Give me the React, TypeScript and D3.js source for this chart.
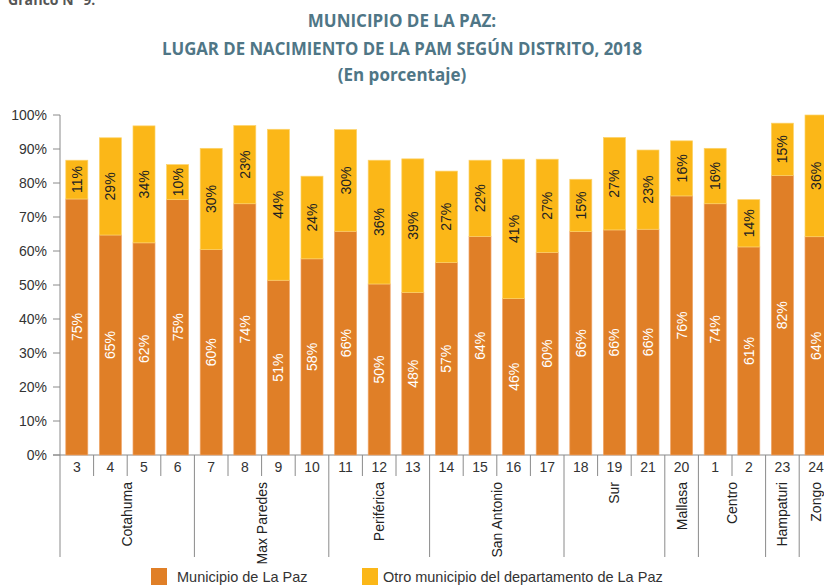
import React from "react";
import * as d3 from "d3";

const categories = ["3","4","5","6","7","8","9","10","11","12","13","14","15","16","17","18","19","21","20","1","2","23","24"];
const municipio = [75.3,64.7,62.4,75.1,60.4,73.9,51.4,57.7,65.8,50.3,47.8,56.6,64.3,46.0,59.6,65.7,66.2,66.4,76.2,73.9,61.2,82.2,64.2];
const otro = [11.4,28.6,34.4,10.3,29.8,23.0,44.4,24.3,29.9,36.4,39.3,26.9,22.4,41.0,27.4,15.4,27.2,23.3,16.2,16.3,13.9,15.4,35.8];
const groupNames = ["Cotahuma","Max Paredes","Periférica","San Antonio","Sur","Mallasa","Centro","Hampaturi","Zongo"];
const groupSizes = [4,4,3,4,3,1,2,1,1];
const yTicks = [0,10,20,30,40,50,60,70,80,90,100];
const seriesNames = ["Municipio de La Paz","Otro municipio del departamento de La Paz"];

const ORANGE = "#E07F27";
const YELLOW = "#FBB718";
const AXIS = "#8a8a8a";
const FONT = "'Liberation Sans', Arial, sans-serif";

export default function App() {
  const W = 824, H = 586;
  const x0 = 60, step = 33.6;
  const x = d3.scaleBand<string>()
    .domain(categories)
    .range([x0, x0 + step * categories.length])
    .paddingInner(0.345)
    .paddingOuter(0.1725);
  const y = d3.scaleLinear().domain([0, 100]).range([455, 115]);
  const fmt = (v: number) => `${Math.round(v)}%`;

  const boundaries: number[] = [0];
  groupSizes.reduce((acc, s) => { boundaries.push(acc + s); return acc + s; }, 0);

  const bw = x.bandwidth();
  const xStart = (i: number) => x0 + i * x.step();

  return (
    <svg width={W} height={H} style={{ position: "absolute", left: 0, top: 0 }} fontFamily={FONT}>
      <rect width={W} height={H} fill="#fff" />
      <text x={8} y={5} fontFamily="'Open Sans', sans-serif" fontWeight="bold" fontSize={14} fill="#555">Gráfico N° 9:</text>
      <g fontFamily="'Open Sans', sans-serif" fontWeight="bold" fill="#4F7686" textAnchor="middle">
        <text x={402} y={27} fontSize={17}>MUNICIPIO DE LA PAZ:</text>
        <text x={402} y={55} fontSize={17} textLength={480} lengthAdjust="spacingAndGlyphs">LUGAR DE NACIMIENTO DE LA PAM SEGÚN DISTRITO, 2018</text>
        <text x={402} y={81} fontSize={17}>(En porcentaje)</text>
      </g>

      <line x1={x0} x2={x0} y1={y(100)} y2={557} stroke={AXIS} strokeWidth={1} />
      {yTicks.map((t) => (
        <g key={t}>
          <line x1={53} x2={x0} y1={y(t)} y2={y(t)} stroke={AXIS} />
          <text x={47} y={y(t)} dy="0.35em" textAnchor="end" fontSize={14} fill="#333">{t}%</text>
        </g>
      ))}
      <line x1={53} x2={W + 20} y1={y(0)} y2={y(0)} stroke={AXIS} />

      {categories.map((c, i) => {
        const m = municipio[i], o = otro[i];
        const bx = x(c)!;
        const cx = bx + bw / 2;
        const ym = y(m), yt = y(m + o);
        const cyM = (y(0) + ym) / 2;
        const cyO = (ym + yt) / 2;
        return (
          <g key={c}>
            <rect x={bx} y={ym} width={bw} height={y(0) - ym} fill={ORANGE} stroke="#EFA56A" strokeWidth={0.7} />
            <rect x={bx} y={yt} width={bw} height={ym - yt} fill={YELLOW} stroke="#FDD36A" strokeWidth={0.7} />
            <text transform={`translate(${cx},${cyM}) rotate(-90)`} textAnchor="middle" dy="0.35em" fontSize={14} fill="#fff">{fmt(m)}</text>
            <text transform={`translate(${cx},${cyO}) rotate(-90)`} textAnchor="middle" dy="0.35em" fontSize={14} fill="#222">{fmt(o)}</text>
            <text x={cx} y={467} dy="0.35em" textAnchor="middle" fontSize={14} fill="#333">{c}</text>
          </g>
        );
      })}

      {categories.map((c, i) => {
        if (i === 0) return null;
        const isBoundary = boundaries.includes(i);
        return <line key={"s" + c} x1={xStart(i)} x2={xStart(i)} y1={y(0)} y2={isBoundary ? 557 : 476} stroke={AXIS} />;
      })}

      {groupNames.map((g, gi) => {
        const a = boundaries[gi], b = boundaries[gi + 1];
        const cx = (xStart(a) + xStart(b)) / 2;
        return (
          <text key={g} transform={`translate(${cx},482) rotate(-90)`} textAnchor="end" dy="0.35em" fontSize={14} fill="#222">{g}</text>
        );
      })}

      <rect x={151} y={568} width={16} height={17} fill={ORANGE} />
      <text x={177} y={577} dy="0.35em" fontSize={14.5} fill="#333">{seriesNames[0]}</text>
      <rect x={362} y={568} width={16} height={17} fill={YELLOW} />
      <text x={383} y={577} dy="0.35em" fontSize={14.5} fill="#333">{seriesNames[1]}</text>
    </svg>
  );
}
